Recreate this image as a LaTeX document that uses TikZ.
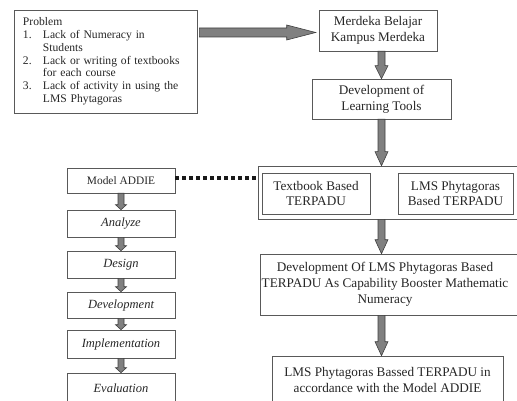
\documentclass[tikz,border=0pt]{standalone}
\usepackage{fontspec}
\setmainfont{Liberation Serif}
\usetikzlibrary{calc}
\tikzset{
  box/.style={draw=black!65, line width=0.6pt, align=center, inner sep=0pt, text=black!85,
    font=\fontsize{13.2}{15.8}\selectfont},
  stepbox/.style={box, minimum width=108pt, minimum height=27pt, font=\fontsize{12.5}{14}\selectfont\itshape},
  fatarrow/.style={fill=black!50, draw=black!75, line width=0.6pt, line join=miter},
  dotline/.style={line width=3.5pt, dash pattern=on 3.5pt off 3.5pt, draw=black!90},
}
% #1 start, #2 end, #3 half shaft, #4 half head, #5 head length
\newcommand\FatDown[5]{%
  \draw[fatarrow] let \p1=(#1), \p2=(#2) in
    (\x1-#3,\y1) -- (\x1-#3,\y2+#5) -- (\x1-#4,\y2+#5) -- (\x1,\y2) --
    (\x1+#4,\y2+#5) -- (\x1+#3,\y2+#5) -- (\x1+#3,\y1) -- cycle;}
\newcommand\FatRight[5]{%
  \draw[fatarrow] let \p1=(#1), \p2=(#2) in
    (\x1,\y1+#3) -- (\x2-#5,\y1+#3) -- (\x2-#5,\y1+#4) -- (\x2,\y1) --
    (\x2-#5,\y1-#4) -- (\x2-#5,\y1-#3) -- (\x1,\y1-#3) -- cycle;}
\begin{document}
\begin{tikzpicture}[x=1pt,y=-1pt]
\useasboundingbox (0,0) rectangle (517,401);
% right column
\node[box, minimum width=183pt, minimum height=103pt, inner xsep=9pt, text width=165pt, align=left,
  font=\fontsize{11.6}{12.8}\selectfont] (prob) at (105.5,61.5)
  {\begin{tabular}{@{}p{14pt}@{\hspace{6pt}}l@{}}
   \multicolumn{2}{@{}l}{Problem}\\
   1. & Lack of Numeracy in\\
      & Students\\
   2. & Lack or writing of textbooks\\
      & for each course\\
   3. & Lack of activity in using the\\
      & LMS Phytagoras
   \end{tabular}};
\node[box, minimum width=118pt, minimum height=41pt] (merdeka) at (378,30.5)
  {Merdeka Belajar\\Kampus Merdeka};
\node[box, minimum width=139pt, minimum height=40pt] (devtools) at (381.5,99)
  {Development of\\Learning Tools};
\node[box, minimum width=267pt, minimum height=53pt] (tools) at (391.5,192.5) {};
\node[box, minimum width=108pt, minimum height=41pt] (textbook) at (316,193.5)
  {Textbook Based\\TERPADU};
\node[box, minimum width=115pt, minimum height=41pt] (lms) at (455.5,193.5)
  {LMS Phytagoras\\Based TERPADU};
\node[box, minimum width=265pt, minimum height=61pt] (dev2) at (392.5,284.5)
  {\parbox{250pt}{\centering Development Of LMS Phytagoras Based\\
   TERPADU As Capability Booster Mathematic\\ Numeracy}\hspace{15pt}};
\node[box, minimum width=231pt, minimum height=54pt, text depth=6pt] (final) at (387.5,383)
  {LMS Phytagoras Bassed TERPADU in\\accordance with the Model ADDIE};
% left column
\node[stepbox, minimum height=25pt, font=\fontsize{11.4}{13}\selectfont] (addie) at (121,180.5) {Model ADDIE};
\node[stepbox] (analyze) at (121,223.5) {Analyze};
\node[stepbox] (design) at (121,264.5) {Design};
\node[stepbox, minimum height=26pt] (develop) at (121,305) {Development};
\node[stepbox, minimum height=28pt] (implement) at (121,344) {Implementation};
\node[stepbox, minimum height=30pt] (evaluate) at (121,388) {Evaluation};
% connectors
\FatRight{$(prob.north east)!0.22!(prob.south east)+(2pt,0)$}{$(merdeka.west)+(-3pt,0)$}{4.5pt}{7.5pt}{29pt}
\FatDown{devtools.north |- merdeka.south}{devtools.north}{3.5pt}{6.5pt}{13pt}
\FatDown{devtools.south}{tools.north}{3.5pt}{6.5pt}{14pt}
\FatDown{devtools.south |- tools.south}{dev2.north}{3.5pt}{6.5pt}{14pt}
\FatDown{devtools.south |- dev2.south}{final.north}{3.5pt}{6.5pt}{14pt}
\FatDown{addie.south}{analyze.north}{3pt}{5.5pt}{5pt}
\FatDown{analyze.south}{design.north}{3pt}{5.5pt}{5pt}
\FatDown{design.south}{develop.north}{3pt}{5.5pt}{5pt}
\FatDown{develop.south}{implement.north}{3pt}{5.5pt}{5pt}
\FatDown{implement.south}{evaluate.north}{3pt}{5.5pt}{5pt}
\coordinate (dotstart) at ($(addie.east)+(0,-2.5)$);
\draw[dotline] (dotstart) -- (dotstart -| tools.west);
\end{tikzpicture}
\end{document}
